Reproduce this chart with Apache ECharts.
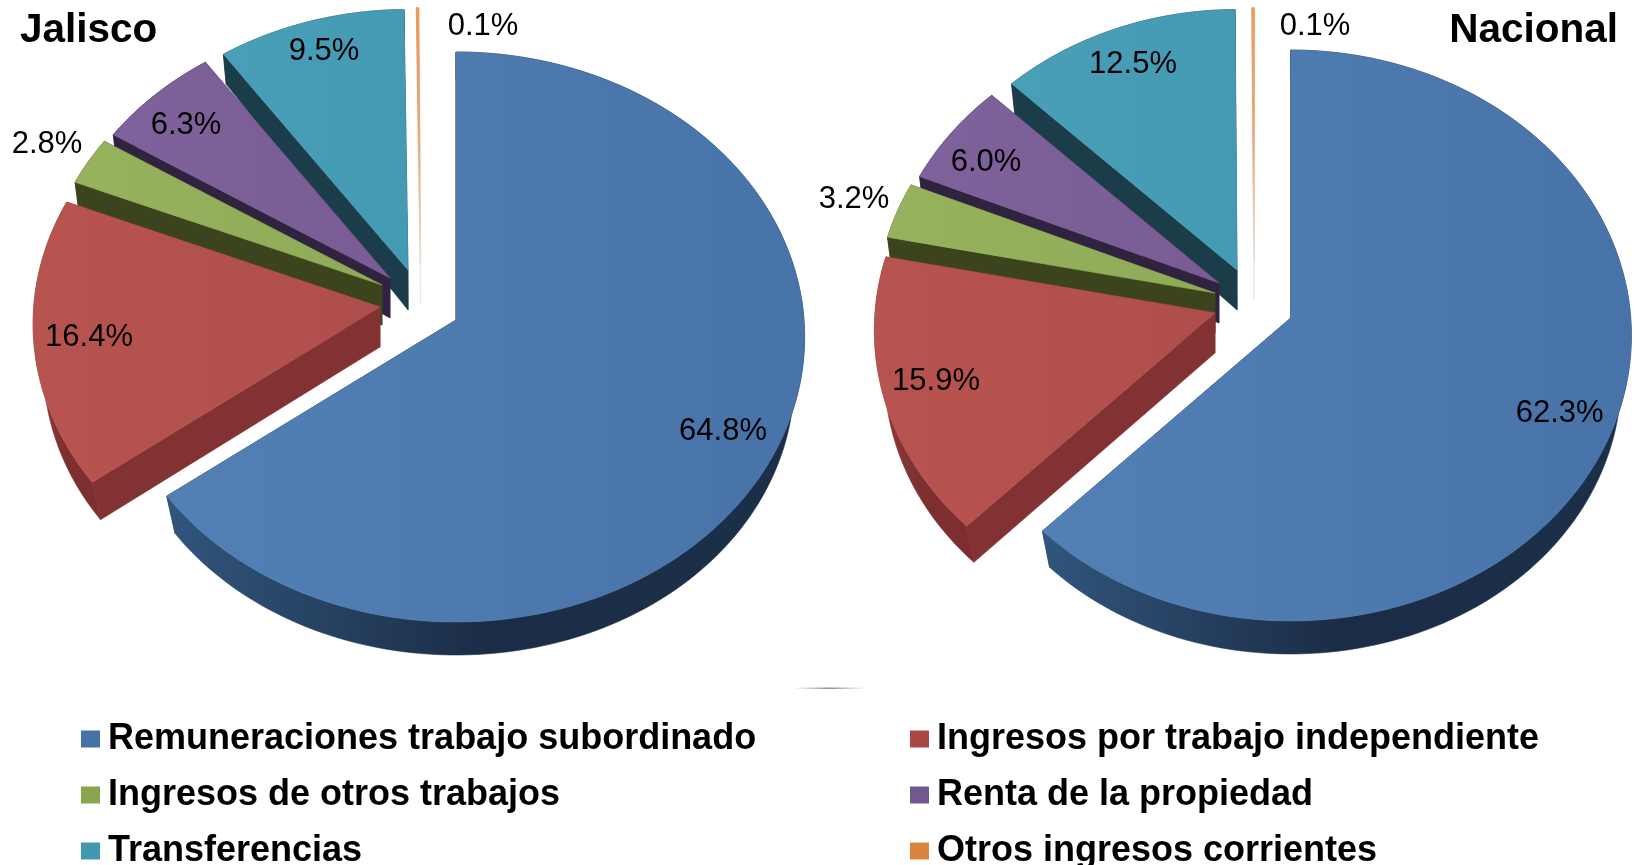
<!DOCTYPE html>
<html>
<head>
<meta charset="utf-8">
<style>html,body{margin:0;padding:0;background:#fff}#c{width:1636px;height:865px}</style>
<script src="https://cdn.jsdelivr.net/npm/echarts@6/dist/echarts.min.js"></script>
</head>
<body>
<div id="c"></div>
<script>
// ---- data ----
const categories = ['Remuneraciones trabajo subordinado','Ingresos por trabajo independiente','Ingresos de otros trabajos','Renta de la propiedad','Transferencias','Otros ingresos corrientes'];
const pieNames = ['Jalisco','Nacional'];
const jalisco  = [64.8,16.4,2.8,6.3,9.5,0.1];
const nacional = [62.3,15.9,3.2,6.0,12.5,0.1];

// ---- styles ----
const legendColors = ['#4572A7','#AA4643','#89A54E','#71588F','#4198AF','#DB843D'];
const topColors = [['#5280b5','#4873a9'],['#b8544f','#ae4e4c'],['#97b25d','#8fab57'],['#7f629b','#785c93'],['#4a9fb8','#459ab3'],['#eb9a5c','#e9a777','#e9e2da']];
const sideColors = ['#1c2e47','#833233','#3c441e','#2f2340','#1b3d4a','#ece6df'];
const wallColors = [['#31557c','#1b2d46','#1c2f49'],['#8e3d3b','#7d2f30','#7d2f30'],['#3c441e','#3c441e','#3c441e'],['#2f2340','#2f2340','#2f2340'],['#1b3d4a','#1b3d4a','#1b3d4a'],['#ece6df','#ece6df','#ece6df']];
const drawRank = [6,5,4,3,2,1];
const labelNudgeY = 2.5;

// ---- projection layout of the two tilted, exploded pies ----
const layouts = [
  { A:348, B:284, p:0.0596,
    apex:[[456,320],[380,307],[382,285],[390,278],[408,270],[420.5,265]],
    radius:[1,0.995,0.975,0.972,0.972,0.959],
    label:[[267,109],[-291,28],[-335,-143],[-204,-155],[-84,-221],[62.5,-241]] },
  { A:340, B:284.4, p:0.0613,
    apex:[[1290.7,318],[1215,313],[1215,293],[1219,283],[1237,270],[1254,260]],
    radius:[1,1,0.995,0.98,0.972,0.94],
    label:[[269,93],[-279,66],[-361,-96],[-233,-123],[-104,-208],[61,-236]] }
];
const tables = [jalisco, nacional];
const RAD = Math.PI/180;

function rel(L, deg, rs){
  const u=Math.sin(deg*RAD), v=Math.cos(deg*RAD), w=1+L.p*v;
  return [L.A*rs*u/w, -L.B*rs*v/w, v];
}
function depth(v){ return v<0 ? 40-7*v*v : 40-12.2*v; }
function inset(v){ return v<0 ? 0.971 : 0.985; }
function arc(L, a, rs, t0, t1, lower){
  const n=Math.max(2,Math.ceil(Math.abs(t1-t0)/1.5)), pts=[];
  for(let i=0;i<=n;i++){
    const r=rel(L,t0+(t1-t0)*i/n,rs);
    pts.push(lower ? [a[0]+r[0]*inset(r[2]), a[1]+r[1]+depth(r[2])] : [a[0]+r[0], a[1]+r[1]]);
  }
  return pts;
}
function grad(c,vertical){
  return {type:'linear',x:0,y:0,x2:vertical?0:1,y2:vertical?1:0,colorStops:c.map((col,i)=>({offset:i/(c.length-1),color:col}))};
}
function renderSlice(params, api){
  const cat=params.seriesIndex, pie=params.dataIndex, val=api.value(0);
  const L=layouts[pie], vals=tables[pie];
  const prior=vals.slice(0,cat).reduce((s,x)=>s+x,0);
  const t0=prior/100*360, t1=t0+val/100*360;
  const a=L.apex[cat], rs=L.radius[cat], z=drawRank[cat]*10;
  const top=arc(L,a,rs,t0,t1,false), low=arc(L,a,rs,t0,t1,true);
  const apexLow=[a[0],a[1]+40];
  const side=sideColors[cat];
  const poly=(points,fill,z2,stroke,lw)=>({type:'polygon',z2:z2,shape:{points:points},
    style:{fill:fill,stroke:stroke||fill,lineWidth:lw===undefined?0.6:lw}});
  const kids=[
    poly([a,top[0],low[0],apexLow], side, z),
    poly([a,top[top.length-1],low[low.length-1],apexLow], side, z),
    poly(top.concat(low.slice().reverse()), grad(wallColors[cat]), z+1)
  ];
  const isThin=(t1-t0)<1;
  const fill=grad(topColors[cat],isThin);
  kids.push(poly([a].concat(top), fill, z+2, isThin?fill:undefined, isThin?1.6:0.6));
  const off=L.label[cat];
  kids.push({type:'text',z2:100,style:{x:a[0]+off[0],y:a[1]+off[1]+labelNudgeY,text:val.toFixed(1)+'%',
    font:'31px "Liberation Sans", Arial, sans-serif',fill:'#000',align:'center',verticalAlign:'middle'}});
  return {type:'group',children:kids};
}

const titleStyle = {fontFamily:'"Liberation Sans", Arial, sans-serif',fontWeight:'bold',fontSize:40.5,color:'#000'};
const legendText = {fontFamily:'"Liberation Sans", Arial, sans-serif',fontWeight:'bold',fontSize:36,color:'#000',lineHeight:36,padding:[0,0,0,3]};
const legendBase = {orient:'vertical',top:721,height:170,itemWidth:19,itemHeight:17,itemGap:20,icon:'rect',selectedMode:false,padding:0,textStyle:legendText,inactiveColor:'#000'};

const option = {
  animation:false,
  backgroundColor:'#fff',
  title:[
    {text:pieNames[0],left:20,top:10,padding:0,textStyle:titleStyle},
    {text:pieNames[1],right:18,top:10,padding:0,textStyle:titleStyle}
  ],
  legend:[
    Object.assign({},legendBase,{left:81,data:[categories[0],categories[2],categories[4]]}),
    Object.assign({},legendBase,{left:910,data:[categories[1],categories[3],categories[5]]})
  ],
  graphic:[{type:'rect',left:793,top:687.5,z:1,silent:true,shape:{width:73,height:1.5},
    style:{fill:{type:'linear',x:0,y:0,x2:1,y2:0,colorStops:[{offset:0,color:'rgba(130,145,160,0)'},{offset:0.5,color:'rgba(110,125,140,0.85)'},{offset:1,color:'rgba(130,145,160,0)'}]}}}],
  series:categories.map((name,i)=>({
    type:'custom',name:name,coordinateSystem:'none',
    itemStyle:{color:legendColors[i]},
    renderItem:renderSlice,
    silent:true,clip:false,
    data:[[jalisco[i]],[nacional[i]]]
  }))
};
echarts.init(document.getElementById('c'),null,{renderer:'canvas'}).setOption(option);
</script>
</body>
</html>
